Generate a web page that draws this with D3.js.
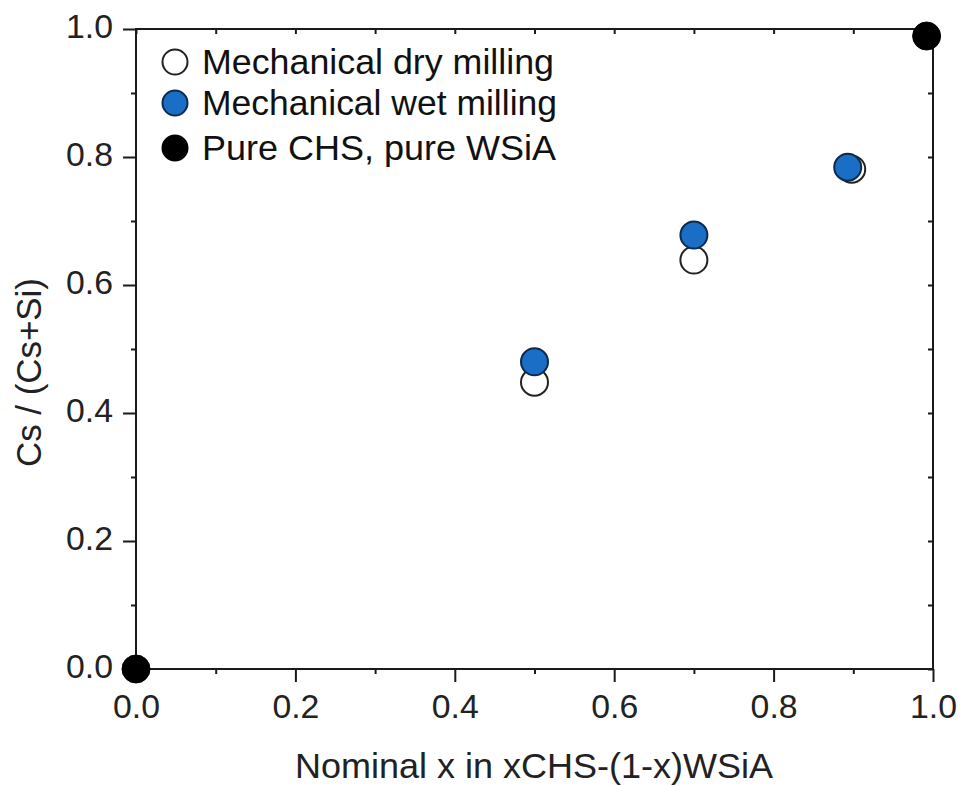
<!DOCTYPE html>
<html><head><meta charset="utf-8">
<script src="https://cdn.jsdelivr.net/npm/d3@7"></script>
<style>body{margin:0;background:#fff}svg{display:block}</style>
</head><body>
<svg id="c" width="963" height="786"></svg>
<script>
const dryX = [0.5, 0.7, 0.898];
const dryY = [0.448, 0.639, 0.781];
const wetX = [0.5, 0.7, 0.893];
const wetY = [0.480, 0.678, 0.784];
const pureX = [0.0, 0.992];
const pureY = [0.0, 0.989];
const majorTicks = [0, 0.2, 0.4, 0.6, 0.8, 1.0];
const minorTicks = [0.1, 0.3, 0.5, 0.7, 0.9];
const legendLabels = ["Mechanical dry milling", "Mechanical wet milling", "Pure CHS, pure WSiA"];
const xTitle = "Nominal x in xCHS-(1-x)WSiA";
const yTitle = "Cs / (Cs+Si)";

const svg = d3.select("#c");
const L = 136, R = 933, T = 29, B = 669;
const x = d3.scaleLinear().domain([0, 1]).range([L, R]);
const y = d3.scaleLinear().domain([0, 1]).range([B, T]);
const font = "'Liberation Sans', Arial, sans-serif";
const axisColor = "#1a1a1a";
const textColor = "#222";

function styleAxis(g) {
  g.select(".domain").remove();
  g.selectAll("line").attr("stroke", axisColor).attr("stroke-width", 2);
}
function styleLabels(g) {
  g.selectAll("text").attr("font-family", font).attr("font-size", 33.5).attr("fill", textColor)
    .attr("textLength", 47).attr("lengthAdjust", "spacingAndGlyphs");
}
// bottom major
const gx = svg.append("g").attr("transform", `translate(0,${B})`)
  .call(d3.axisBottom(x).tickValues(majorTicks).tickSize(13).tickPadding(4).tickFormat(d3.format(".1f")));
styleAxis(gx); styleLabels(gx);
gx.selectAll("text").attr("dy", null).attr("y", 49);
svg.append("g").attr("transform", `translate(0,${B})`)
  .call(d3.axisBottom(x).tickValues(minorTicks).tickSize(5).tickFormat("")).call(styleAxis);
// left major
const gy = svg.append("g").attr("transform", `translate(${L},0)`)
  .call(d3.axisLeft(y).tickValues(majorTicks).tickSize(13).tickPadding(10).tickFormat(d3.format(".1f")));
styleAxis(gy); styleLabels(gy);
gy.selectAll("text").attr("dy", "0.26em");
svg.append("g").attr("transform", `translate(${L},0)`)
  .call(d3.axisLeft(y).tickValues(minorTicks).tickSize(5).tickFormat("")).call(styleAxis);
// top and right inward
svg.append("g").attr("transform", `translate(0,${T})`)
  .call(d3.axisBottom(x).tickValues(majorTicks.concat(minorTicks)).tickSize(5).tickFormat("")).call(styleAxis);
svg.append("g").attr("transform", `translate(${R},0)`)
  .call(d3.axisLeft(y).tickValues(majorTicks.concat(minorTicks)).tickSize(5).tickFormat("")).call(styleAxis);
// frame
svg.append("rect").attr("x", L).attr("y", T).attr("width", R - L).attr("height", B - T)
  .attr("fill", "none").attr("stroke", axisColor).attr("stroke-width", 2);

// titles
svg.append("text").attr("x", 295).attr("y", 778)
  .attr("font-family", font).attr("font-size", 35).attr("fill", textColor)
  .attr("textLength", 478).attr("lengthAdjust", "spacingAndGlyphs").text(xTitle);
svg.append("text").attr("transform", `translate(41,467) rotate(-90)`)
  .attr("font-family", font).attr("font-size", 35).attr("fill", textColor)
  .attr("textLength", 189).attr("lengthAdjust", "spacingAndGlyphs").text(yTitle);

const r = 13.5;
const blue = "#1a6ec6";
// dry
svg.append("g").selectAll("circle").data(dryX).join("circle")
  .attr("cx", (d, i) => x(d)).attr("cy", (d, i) => y(dryY[i])).attr("r", r)
  .attr("fill", "#fff").attr("stroke", "#222").attr("stroke-width", 2);
// wet
svg.append("g").selectAll("circle").data(wetX).join("circle")
  .attr("cx", (d, i) => x(d)).attr("cy", (d, i) => y(wetY[i])).attr("r", r)
  .attr("fill", blue).attr("stroke", "#0d2a4a").attr("stroke-width", 2);
// pure
svg.append("g").selectAll("circle").data(pureX).join("circle")
  .attr("cx", (d, i) => x(d)).attr("cy", (d, i) => y(pureY[i])).attr("r", r + 0.5)
  .attr("fill", "#000").attr("stroke", "#000").attr("stroke-width", 1);

// legend
const legStyles = [
  {fill: "#fff", stroke: "#222"},
  {fill: blue, stroke: "#0d2a4a"},
  {fill: "#000", stroke: "#000"}
];
const legY = [62, 103, 148];
const legW = [352, 355, 354];
const lg = svg.append("g");
legendLabels.forEach((t, i) => {
  lg.append("circle").attr("cx", 175).attr("cy", legY[i]).attr("r", 12.5)
    .attr("fill", legStyles[i].fill).attr("stroke", legStyles[i].stroke).attr("stroke-width", 2);
  lg.append("text").attr("x", 202).attr("y", legY[i] + 12)
    .attr("font-family", font).attr("font-size", 35).attr("fill", "#111")
    .attr("textLength", legW[i]).attr("lengthAdjust", "spacingAndGlyphs").text(t);
});
</script>
</body></html>
